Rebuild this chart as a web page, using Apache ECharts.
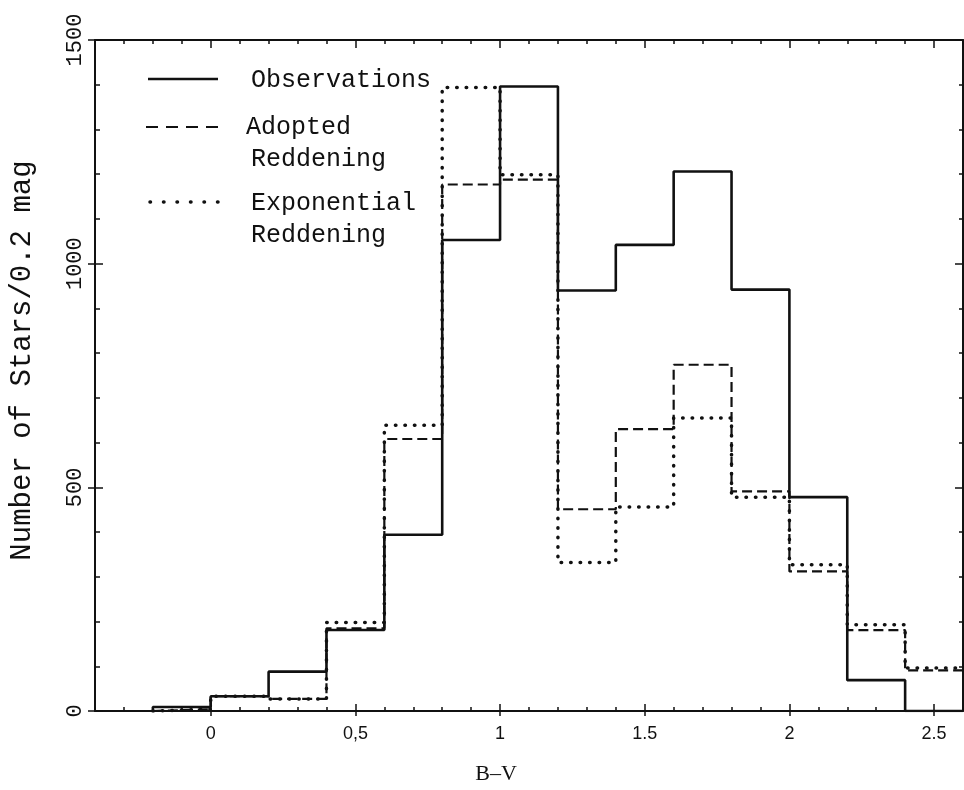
<!DOCTYPE html>
<html>
<head>
<meta charset="utf-8">
<script src="https://cdn.jsdelivr.net/npm/echarts@6/dist/echarts.min.js"></script>
<style>
  html, body { margin: 0; padding: 0; background: #ffffff; }
  #chart { width: 964px; height: 790px; }
</style>
</head>
<body>
<div id="chart"></div>
<script>
// ---- data ----
const binStarts = [-0.2, 0, 0.2, 0.4, 0.6, 0.8, 1.0, 1.2, 1.4, 1.6, 1.8, 2.0, 2.2, 2.4];
const binWidth = 0.2;
const observations = [9, 33, 88, 181, 394, 1053, 1396, 940, 1042, 1206, 942, 478, 69, 0];
const adoptedReddening = [4, 33, 27, 185, 608, 1177, 1188, 451, 630, 774, 491, 312, 181, 91];
const exponentialReddening = [4, 33, 27, 198, 639, 1394, 1199, 332, 456, 655, 478, 327, 193, 96];

const xTickValues = [0, 0.5, 1, 1.5, 2, 2.5];
const xTickLabels = ['0', '0,5', '1', '1.5', '2', '2.5'];
const yTickValues = [0, 500, 1000, 1500];
const yTickLabels = ['0', '500', '1000', '1500'];

const seriesNames = ['Observations', 'Adopted\nReddening', 'Exponential\nReddening'];

// ---- build step outlines ----
function stepData(vals) {
  const d = [[binStarts[0], 0]];
  binStarts.forEach((x, i) => d.push([x, vals[i]]));
  d.push([binStarts[binStarts.length - 1] + binWidth, vals[vals.length - 1]]);
  return d;
}

const INK = '#111111';
const XMIN = -0.4, XMAX = 2.6, YMIN = 0, YMAX = 1500;

function baseX(pos, extra) {
  return Object.assign({
    type: 'value', position: pos, min: XMIN, max: XMAX, interval: 0.1,
    axisLine: { show: false, onZero: false },
    axisTick: { show: false },
    axisLabel: { show: false },
    splitLine: { show: false }
  }, extra);
}
function baseY(pos, extra) {
  return Object.assign({
    type: 'value', position: pos, min: YMIN, max: YMAX, interval: 100,
    axisLine: { show: false, onZero: false },
    axisTick: { show: false },
    axisLabel: { show: false },
    splitLine: { show: false }
  }, extra);
}

const chart = echarts.init(document.getElementById('chart'), null, { renderer: 'canvas' });

const option = {
  backgroundColor: '#ffffff',
  animation: false,
  grid: { left: 93, top: 40, width: 870, height: 679, containLabel: false },
  xAxis: [
    baseX('bottom', {
      axisLine: { show: true, onZero: false, lineStyle: { color: INK, width: 2 } },
      axisTick: { show: true, inside: true, length: 4, lineStyle: { color: INK, width: 1.5 } }
    }),
    baseX('bottom', {
      axisTick: { show: true, inside: true, length: 7, customValues: xTickValues, lineStyle: { color: INK, width: 1.5 } },
      axisLabel: {
        show: true, customValues: xTickValues, margin: 14,
        formatter: v => { const i = xTickValues.findIndex(t => Math.abs(t - v) < 1e-6); return i >= 0 ? xTickLabels[i] : ''; },
        color: INK, fontFamily: 'Liberation Sans', fontSize: 18
      },
      name: 'B\u2013V', nameLocation: 'middle', nameGap: 52,
      nameTextStyle: { color: INK, fontFamily: 'Liberation Serif', fontSize: 22, padding: [0, 66, 0, 0] }
    }),
    baseX('bottom', {
      axisTick: { show: true, inside: false, length: 5, customValues: xTickValues, lineStyle: { color: INK, width: 1.5 } }
    }),
    baseX('top', {
      axisLine: { show: true, onZero: false, lineStyle: { color: INK, width: 2 } },
      axisTick: { show: true, inside: true, length: 4, lineStyle: { color: INK, width: 1.5 } }
    }),
    baseX('top', {
      axisTick: { show: true, inside: true, length: 8, customValues: xTickValues, lineStyle: { color: INK, width: 1.5 } }
    })
  ],
  yAxis: [
    baseY('left', {
      axisLine: { show: true, onZero: false, lineStyle: { color: INK, width: 2 } },
      axisTick: { show: true, inside: true, length: 5, lineStyle: { color: INK, width: 1.5 } }
    }),
    baseY('left', {
      axisTick: { show: true, inside: true, length: 8, customValues: yTickValues, lineStyle: { color: INK, width: 1.5 } },
      axisLabel: {
        show: true, customValues: yTickValues, rotate: 90, margin: 9,
        formatter: v => { const i = yTickValues.indexOf(v); return i >= 0 ? yTickLabels[i] : ''; },
        color: INK, fontFamily: 'Liberation Mono', fontSize: 22
      },
      name: 'Number of Stars/0.2 mag', nameLocation: 'middle', nameGap: 58, nameRotate: 90,
      nameTextStyle: { color: INK, fontFamily: 'Liberation Mono', fontSize: 29, padding: [0, 0, 0, 30] }
    }),
    baseY('left', {
      axisTick: { show: true, inside: false, length: 7, customValues: yTickValues, lineStyle: { color: INK, width: 1.5 } }
    }),
    baseY('right', {
      axisLine: { show: true, onZero: false, lineStyle: { color: INK, width: 2 } },
      axisTick: { show: true, inside: true, length: 4, lineStyle: { color: INK, width: 1.5 } }
    }),
    baseY('right', {
      axisTick: { show: true, inside: true, length: 8, customValues: yTickValues, lineStyle: { color: INK, width: 1.5 } }
    })
  ],
  series: [
    {
      name: seriesNames[2], type: 'line', step: 'end', xAxisIndex: 0, yAxisIndex: 0,
      symbol: 'none', z: 3,
      lineStyle: { color: INK, width: 3.5, type: [0.5, 9], cap: 'round' },
      data: stepData(exponentialReddening)
    },
    {
      name: seriesNames[1], type: 'line', step: 'end', xAxisIndex: 0, yAxisIndex: 0,
      symbol: 'none', z: 4,
      lineStyle: { color: INK, width: 2.2, type: [10, 5] },
      data: stepData(adoptedReddening)
    },
    {
      name: seriesNames[0], type: 'line', step: 'end', xAxisIndex: 0, yAxisIndex: 0,
      symbol: 'none', z: 5,
      lineStyle: { color: INK, width: 2.6, type: 'solid' },
      data: stepData(observations)
    }
  ],
  graphic: [
    { type: 'line', shape: { x1: 148, y1: 79, x2: 218, y2: 79 }, style: { stroke: INK, lineWidth: 2.5 } },
    { type: 'line', shape: { x1: 146, y1: 127, x2: 218, y2: 127 }, style: { stroke: INK, lineWidth: 2.2, lineDash: [12, 8] } },
    { type: 'line', shape: { x1: 150, y1: 202, x2: 218, y2: 202 }, style: { stroke: INK, lineWidth: 3.5, lineDash: [0.5, 13], lineCap: 'round' } },
    { type: 'text', x: 251, y: 80, style: { text: 'Observations', fill: INK, font: '25px "Liberation Mono"', textVerticalAlign: 'middle' } },
    { type: 'text', x: 246, y: 127, style: { text: 'Adopted', fill: INK, font: '25px "Liberation Mono"', textVerticalAlign: 'middle' } },
    { type: 'text', x: 251, y: 159, style: { text: 'Reddening', fill: INK, font: '25px "Liberation Mono"', textVerticalAlign: 'middle' } },
    { type: 'text', x: 251, y: 203, style: { text: 'Exponential', fill: INK, font: '25px "Liberation Mono"', textVerticalAlign: 'middle' } },
    { type: 'text', x: 251, y: 235, style: { text: 'Reddening', fill: INK, font: '25px "Liberation Mono"', textVerticalAlign: 'middle' } }
  ]
};

chart.setOption(option);
</script>
</body>
</html>
